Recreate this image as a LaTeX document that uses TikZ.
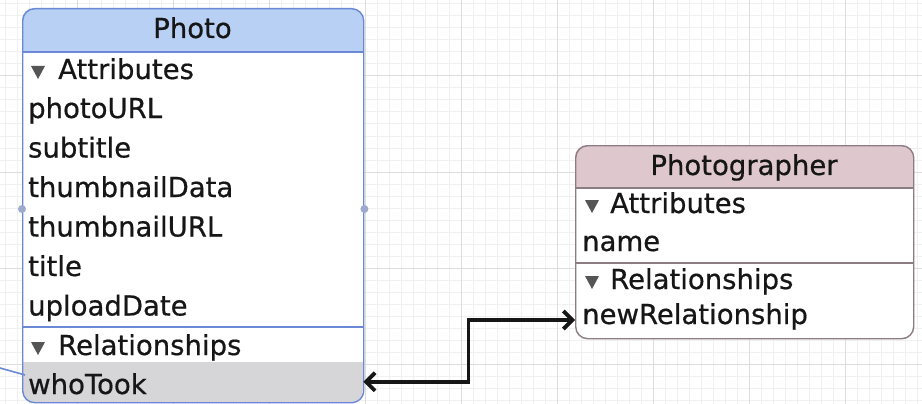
\documentclass[tikz,border=0pt]{standalone}
\usepackage{fontspec}
\setmainfont{DejaVu Sans}
\newfontfamily\entityfont[FakeBold=0.6]{DejaVu Sans}
\usetikzlibrary{arrows.meta}

\definecolor{gridminor}{HTML}{F0F0F0}
\definecolor{gridmajor}{HTML}{DDDDDD}
\definecolor{photohead}{HTML}{B9D0F5}
\definecolor{photoline}{HTML}{6A88D6}
\definecolor{grapherhead}{HTML}{DEC8CE}
\definecolor{grapherline}{HTML}{8C7C84}
\definecolor{hlgray}{HTML}{D6D6D9}
\definecolor{ink}{HTML}{161616}
\definecolor{handle}{HTML}{9EAACB}
\definecolor{tri}{HTML}{555555}

\tikzset{
  entitybox/.style={rounded corners=12pt, inner sep=0pt, anchor=north west, line width=1.4pt},
  rowtext/.style={anchor=base west, inner sep=0pt, text=ink,
    font=\entityfont\fontsize{27.5}{33}\selectfont, text height=14pt, text depth=6pt},
  titletext/.style={anchor=base, inner sep=0pt, text=ink,
    font=\entityfont\fontsize{27.5}{33}\selectfont},
  disclosure/.style={fill=tri},
  relconn/.style={draw=ink, line width=3.8pt,
    {Straight Barb[length=9pt,width=18pt]}-{Straight Barb[length=9pt,width=18pt]}},
  stubline/.style={draw=photoline, line width=1.6pt}
}

% small downward disclosure triangle, top-left corner at (#1,#2)
\newcommand{\disctri}[2]{\fill[disclosure] (#1,#2) -- ++(14,0) -- ++(-7,13) -- cycle;}

\begin{document}
\begin{tikzpicture}[x=1pt,y=-1pt]
\useasboundingbox (0,0) rectangle (922,404);
\fill[white] (0,0) rectangle (922,404);

% background grid
\foreach \x in {5,17,...,917} \draw[gridminor, line width=1pt] (\x,0) -- (\x,404);
\foreach \y in {4,16,...,400} \draw[gridminor, line width=1pt] (0,\y) -- (922,\y);
\foreach \x in {77,173,...,845} \draw[gridmajor, line width=1pt] (\x,0) -- (\x,404);
\foreach \y in {76,172,268,364} \draw[gridmajor, line width=1pt] (0,\y) -- (922,\y);

% ---------------- Photo entity ----------------
\begin{scope}
  \clip[rounded corners=12pt] (22,8) rectangle (363,402);
  \fill[white] (22,8) rectangle (363,402);
  \fill[photohead] (22,8) rectangle (363,52);
  \node[fill=hlgray, inner sep=0pt, minimum width=341pt, minimum height=40pt,
        anchor=south west] (whotook) at (22,402) {};
\end{scope}
\node[entitybox, draw=photoline, minimum width=341pt, minimum height=394pt] (photo) at (22,8) {};
\draw[photoline, line width=1.4pt] (photo.west |- 0,52) -- (photo.east |- 0,52);
\draw[photoline, line width=1.4pt] (photo.west |- 0,327) -- (photo.east |- 0,327);

\node[titletext] (phototitle) at (192.5,38) {Photo};
\disctri{31}{66}
\node[rowtext] (pattr) at (58,79) {Attributes};
\node[rowtext] (photourl) at (28,118) {photoURL};
\node[rowtext] (subtitle) at (28,157.5) {subtitle};
\node[rowtext] (thumbdata) at (28,197) {thumbnailData};
\node[rowtext] (thumburl) at (28,236.5) {thumbnailURL};
\node[rowtext] (ptitle) at (28,276) {title};
\node[rowtext] (uploaddate) at (28,315.5) {uploadDate};
\disctri{31}{342}
\node[rowtext] (prel) at (58,355) {Relationships};
\node[rowtext] (whotooktext) at (28,394) {whoTook};

% resize handles on the selected entity
\fill[handle] (photo.west |- 0,209) circle (4pt);
\fill[handle] (photo.east |- 0,209) circle (4pt);

% ---------------- Photographer entity ----------------
\begin{scope}
  \clip[rounded corners=12pt] (575,145) rectangle (913,338);
  \fill[white] (575,145) rectangle (913,338);
  \fill[grapherhead] (575,145) rectangle (913,188);
\end{scope}
\node[entitybox, draw=grapherline, minimum width=338pt, minimum height=193pt] (grapher) at (575,145) {};
\draw[grapherline, line width=1.4pt] (grapher.west |- 0,188) -- (grapher.east |- 0,188);
\draw[grapherline, line width=1.4pt] (grapher.west |- 0,263) -- (grapher.east |- 0,263);

\node[titletext] (graphertitle) at (744,175) {Photographer};
\disctri{585}{200}
\node[rowtext] (gattr) at (610,213) {Attributes};
\node[rowtext] (name) at (582,251) {name};
\disctri{585}{276}
\node[rowtext] (grel) at (610,289) {Relationships};
\node[rowtext, text width=320pt] (newrel) at (582,324) {newRelationship};

% ---------------- relationship connector ----------------
\draw[relconn] (whotook.east) -- ++(105,0) |- (grapher.west |- newrel.west);

% selection stub entering from the left
\coordinate (offleft) at (0,368);
\coordinate (stubend) at (25,375);
\draw[stubline] (offleft) -- (stubend);
\end{tikzpicture}
\end{document}
